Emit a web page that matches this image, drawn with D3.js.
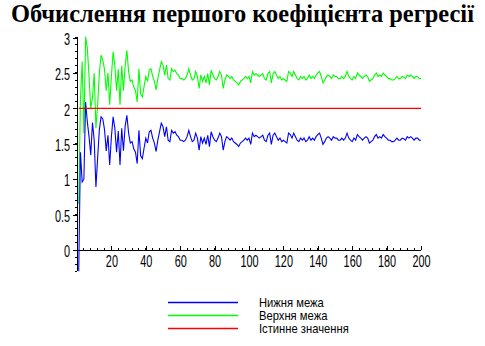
<!DOCTYPE html>
<html><head><meta charset="utf-8">
<script src="https://cdn.jsdelivr.net/npm/d3@7/dist/d3.min.js"></script>
<style>html,body{margin:0;padding:0;background:#fff;}svg{display:block;}</style>
</head><body>
<svg id="chart" width="485" height="346"></svg>
<script>
const title = "Обчислення першого коефіцієнта регресії";
const legendLabels = ["Нижня межа", "Верхня межа", "Істинне значення"];
const xTicks = [20, 40, 60, 80, 100, 120, 140, 160, 180, 200];
const yTicks = [0, 0.5, 1, 1.5, 2, 2.5, 3];
const yTickLabels = ["0", "0.5", "1", "1.5", "2", "2.5", "3"];
const trueValue = 2;
const upper = [
0.65,2.12,2.66,1.65,3.01,2.85,2.45,2.0,2.15,2.5,1.72,2.05,2.5,2.75,2.68,2.55,2.25,2.5,2.05,2.45,2.8,2.6,2.25,2.55,2.05,2.6,2.25,2.6,2.82,2.52,
2.38,2.4,2.3,2.25,2.09,2.56,2.2,2.16,2.31,2.45,2.38,2.54,2.56,2.45,2.38,2.26,2.42,2.54,2.66,2.61,2.47,2.61,2.42,2.4,2.56,2.52,2.54,2.49,2.47,2.42,2.42,2.4,2.42,2.47,2.56,2.47,2.4,2.42,2.52,2.45,
2.28,2.47,2.38,2.45,2.36,2.49,2.33,2.54,2.47,2.42,2.4,2.45,2.52,2.47,2.28,2.4,2.47,2.45,2.42,2.45,2.4,2.38,2.36,2.33,2.38,2.4,2.42,2.45,2.42,2.45,2.36,2.52,2.47,2.49,2.47,2.45,2.47,2.49,2.42,2.4,2.49,2.52,2.36,2.49,2.52,
2.47,2.42,2.45,2.4,2.42,2.4,2.38,2.52,2.5,2.45,2.52,2.47,2.42,2.4,2.45,2.42,2.45,2.4,2.42,2.47,2.42,2.45,2.42,2.47,2.5,2.52,2.45,2.36,2.4,2.45,2.47,2.45,2.42,2.47,2.45,2.45,2.42,2.42,2.45,2.42,2.45,2.52,2.45,2.42,2.4,2.45,
2.42,2.5,2.47,2.45,2.42,2.45,2.47,2.45,2.38,2.4,2.42,2.47,2.5,2.45,2.47,2.45,2.5,2.47,2.45,2.42,2.42,2.4,2.4,2.42,2.45,2.42,2.42,2.45,2.44,2.42,2.47,2.45,2.47,2.45,2.42,2.45,2.45,2.42,2.42
];
const lower = [
-0.3,1.38,0.96,1.0,2.09,1.81,1.6,1.34,1.8,1.55,0.89,1.3,1.7,1.88,1.85,1.7,1.4,1.62,1.2,1.6,1.88,1.72,1.38,1.68,1.2,1.72,1.4,1.75,1.9,1.65,
1.51,1.53,1.43,1.38,1.22,1.69,1.33,1.29,1.44,1.58,1.51,1.67,1.69,1.58,1.51,1.39,1.55,1.67,1.79,1.74,1.6,1.74,1.55,1.53,1.69,1.65,1.67,1.62,1.6,1.55,1.55,1.53,1.55,1.6,1.69,1.6,1.53,1.55,1.65,1.58,
1.41,1.6,1.51,1.58,1.49,1.62,1.46,1.67,1.6,1.55,1.53,1.58,1.65,1.6,1.41,1.53,1.6,1.58,1.55,1.58,1.53,1.51,1.49,1.46,1.51,1.53,1.55,1.58,1.55,1.58,1.49,1.65,1.6,1.62,1.6,1.58,1.6,1.62,1.55,1.53,1.62,1.65,1.49,1.62,1.65,
1.6,1.55,1.58,1.53,1.55,1.53,1.51,1.65,1.63,1.58,1.65,1.6,1.55,1.53,1.58,1.55,1.58,1.53,1.55,1.6,1.55,1.58,1.55,1.6,1.63,1.65,1.58,1.49,1.53,1.58,1.6,1.58,1.55,1.6,1.58,1.58,1.55,1.55,1.58,1.55,1.58,1.65,1.58,1.55,1.53,1.58,
1.55,1.63,1.6,1.58,1.55,1.58,1.6,1.58,1.51,1.53,1.55,1.6,1.63,1.58,1.6,1.58,1.63,1.6,1.58,1.55,1.55,1.53,1.53,1.55,1.58,1.55,1.55,1.58,1.57,1.55,1.6,1.58,1.6,1.58,1.55,1.58,1.58,1.55,1.55
];
const colors = {lower: "#0000ff", upper: "#00ff00", truth: "#ff0000"};

const svg = d3.select("#chart");
const x = d3.scaleLinear().domain([0, 200]).range([77, 421]);
const y = d3.scaleLinear().domain([0, 3]).range([250, 37.5]);
const sansFont = "'Liberation Sans', Arial, sans-serif";

// title
const t = svg.append("text").text(title)
  .attr("x", 242.5).attr("y", 22).attr("text-anchor", "middle")
  .style("font-family", "'Liberation Serif', 'Times New Roman', serif")
  .style("font-weight", "bold").style("font-size", "22px").attr("fill", "#000");
const tw = t.node().getComputedTextLength();
t.style("font-size", (22 * 463 / tw) + "px");

const allVals = upper.concat(lower);
const yMin = d3.min(allVals), yMax = d3.max(allVals);

// axes lines
const ax = svg.append("g").attr("stroke", "#000").attr("stroke-width", 1).attr("shape-rendering", "crispEdges");
ax.append("line").attr("x1", x(0)).attr("x2", x(200)).attr("y1", y(0)).attr("y2", y(0));
ax.append("line").attr("x1", x(0)).attr("x2", x(0)).attr("y1", y(yMin)).attr("y2", y(yMax));

// y minor ticks
const yMinor = d3.range(Math.ceil(yMin * 10), Math.floor(yMax * 10) + 1).map(v => v / 10);
ax.selectAll(".ym").data(yMinor).enter().append("line")
  .attr("x1", x(0) - 2).attr("x2", x(0)).attr("y1", d => y(d)).attr("y2", d => y(d));
// x minor ticks
const xMinor = d3.range(0, 201, 4);
ax.selectAll(".xm").data(xMinor).enter().append("line")
  .attr("x1", d => x(d)).attr("x2", d => x(d)).attr("y1", y(0) - 2).attr("y2", y(0));

// y axis major
const sx = 0.64;
const yAxis = d3.axisLeft(y).tickValues(yTicks).tickFormat((d, i) => yTickLabels[i]).tickSize(4).tickPadding(3).tickSizeOuter(0);
const gy = svg.append("g").attr("transform", `translate(${x(0)},0)`).call(yAxis);
gy.select(".domain").remove();
gy.selectAll("line").attr("stroke", "#000").attr("shape-rendering", "crispEdges");
gy.selectAll("text").style("font-family", sansFont).style("font-size", "17px").attr("fill", "#000")
  .attr("x", -7 / sx).attr("dy", "0.4em").attr("transform", `scale(${sx},1)`);

// x axis major
const xAxis = d3.axisBottom(x).tickValues(xTicks).tickSize(-4).tickPadding(5).tickSizeOuter(0);
const gx = svg.append("g").attr("transform", `translate(0,${y(0)})`).call(xAxis);
gx.select(".domain").remove();
gx.selectAll("line").attr("stroke", "#000").attr("shape-rendering", "crispEdges");
gx.selectAll("text").style("font-family", sansFont).style("font-size", "17px").attr("fill", "#000")
  .attr("transform", `scale(${sx},1)`);

// series
const line = d3.line().x((d, i) => x(i + 1)).y(d => y(d));
svg.append("path").datum(upper).attr("d", line).attr("fill", "none").attr("stroke", colors.upper).attr("stroke-width", 1.1);
svg.append("path").datum(lower).attr("d", line).attr("fill", "none").attr("stroke", colors.lower).attr("stroke-width", 1.1);
svg.append("line").attr("x1", x(1)).attr("x2", x(200)).attr("y1", y(trueValue)).attr("y2", y(trueValue))
  .attr("stroke", colors.truth).attr("stroke-width", 1.4);

// legend
const legColors = [colors.lower, colors.upper, colors.truth];
const lg = svg.append("g");
legendLabels.forEach((lab, i) => {
  const ly = 302.5 + i * 13;
  lg.append("line").attr("x1", 168).attr("x2", 238).attr("y1", ly).attr("y2", ly)
    .attr("stroke", legColors[i]).attr("stroke-width", 1.4);
  lg.append("text").text(lab).attr("transform", `translate(259,${ly + 4.5}) scale(1.02,1.08)`)
    .style("font-family", sansFont).style("font-size", "11px").attr("fill", "#000");
});
</script>
</body></html>
